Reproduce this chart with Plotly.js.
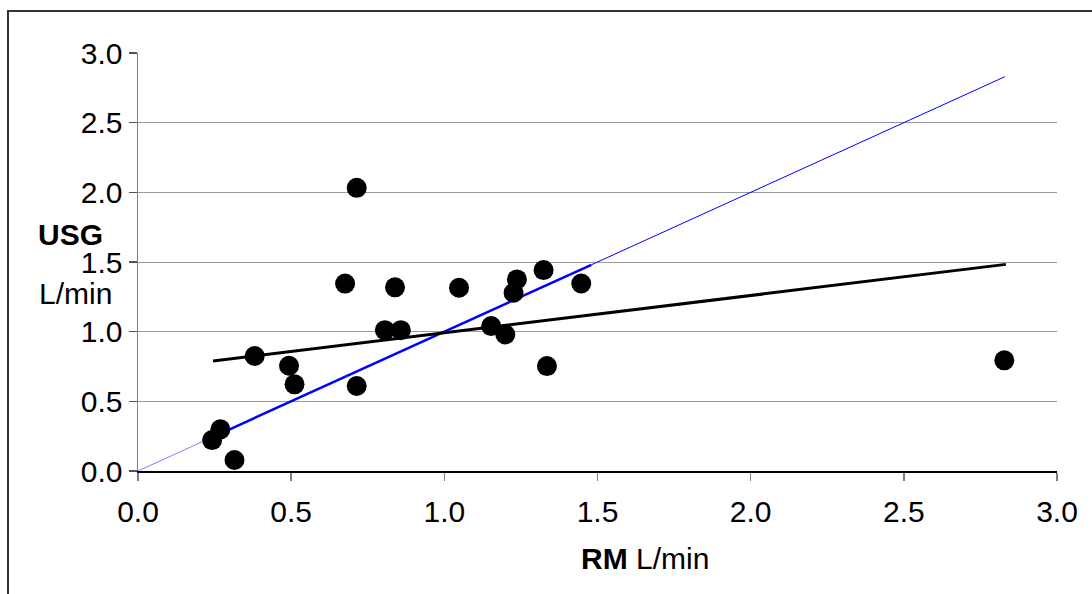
<!DOCTYPE html>
<html>
<head>
<meta charset="utf-8">
<script src="https://cdn.plot.ly/plotly-3.0.1.min.js"></script>
<style>
  html, body { margin: 0; padding: 0; background: #fff; overflow: hidden; }
  #wrap { position: relative; width: 1092px; height: 594px; }
  #chart { width: 1092px; height: 594px; }
  #frame { position: absolute; left: 7px; top: 10px; width: 2000px; height: 2000px;
           border-top: 2px solid #333; border-left: 2px solid #333; pointer-events: none; }
</style>
</head>
<body>
<div id="wrap">
  <div id="chart"></div>
  <div id="frame"></div>
</div>
<script>
// Measured data: RM (x) vs USG (y), L/min
const rm  = [0.242, 0.269, 0.315, 0.381, 0.493, 0.511, 0.676, 0.714, 0.714, 0.806, 0.839, 0.858,
             1.048, 1.153, 1.199, 1.226, 1.237, 1.324, 1.335, 1.447, 2.828];
const usg = [0.222, 0.299, 0.079, 0.825, 0.755, 0.622, 1.345, 2.032, 0.610, 1.011, 1.318, 1.011,
             1.315, 1.040, 0.980, 1.279, 1.375, 1.442, 0.753, 1.346, 0.794];

// Regression line endpoints
const regX = [0.245, 2.833];
const regY = [0.789, 1.483];

// Line of identity (y = x), split into segments
const idLow  = [0, 0.242];
const idMid  = [0.242, 1.48];
const idHigh = [1.48, 2.83];

const tickVals = [0, 0.5, 1, 1.5, 2, 2.5, 3];
const tickText = ['0.0', '0.5', '1.0', '1.5', '2.0', '2.5', '3.0'];

const FONT = 'Liberation Sans, Arial, Helvetica, sans-serif';

const traces = [
  { x: idLow, y: idLow, mode: 'lines', line: { color: 'rgba(0,0,255,0.5)', width: 1 }, hoverinfo: 'skip' },
  { x: idMid, y: idMid, mode: 'lines', line: { color: '#0000ff', width: 2.5 }, hoverinfo: 'skip' },
  { x: idHigh, y: idHigh, mode: 'lines', line: { color: '#0000ff', width: 1 }, hoverinfo: 'skip' },
  { x: regX, y: regY, mode: 'lines', line: { color: '#000', width: 3 }, hoverinfo: 'skip' },
  { x: rm, y: usg, mode: 'markers', marker: { color: '#000', size: 20 } }
];

const layout = {
  width: 1092, height: 594,
  margin: { l: 138, r: 35, t: 53, b: 123 },
  paper_bgcolor: '#fff', plot_bgcolor: '#fff',
  showlegend: false,
  font: { family: FONT, size: 30, color: '#000' },
  xaxis: {
    range: [0, 3], tickvals: tickVals, ticktext: tickText,
    showgrid: false, zeroline: false,
    showline: true, linecolor: '#000', linewidth: 1.5,
    ticks: 'outside', ticklen: 8, tickcolor: '#808080', tickwidth: 1.5,
    ticklabelstandoff: 5,
    tickfont: { family: FONT, size: 30, color: '#000' }
  },
  yaxis: {
    range: [0, 3], tickvals: tickVals, ticktext: tickText,
    showgrid: true, gridcolor: '#9a9a9a', gridwidth: 1,
    zeroline: false,
    showline: true, linecolor: '#808080', linewidth: 1.5,
    ticks: 'outside', ticklen: 8, tickcolor: '#555', tickwidth: 1.5,
    tickfont: { family: FONT, size: 30, color: '#000' }
  },
  annotations: [
    { text: '<b>USG</b>', xref: 'paper', yref: 'paper', x: -0.1103, y: 0.566,
      xanchor: 'left', yanchor: 'middle', showarrow: false, borderpad: 0,
      font: { family: FONT, size: 30, color: '#000' } },
    { text: 'L/min', xref: 'paper', yref: 'paper', x: -0.1103, y: 0.4255,
      xanchor: 'left', yanchor: 'middle', showarrow: false,
      font: { family: FONT, size: 30, color: '#000' } },
    { text: '<b>RM</b> L/min', xref: 'paper', yref: 'paper', x: 0.5517, y: -0.2104,
      xanchor: 'center', yanchor: 'middle', showarrow: false,
      font: { family: FONT, size: 30, color: '#000' } }
  ]
};

Plotly.newPlot('chart', traces, layout, { displayModeBar: false, staticPlot: true });
</script>
</body>
</html>
